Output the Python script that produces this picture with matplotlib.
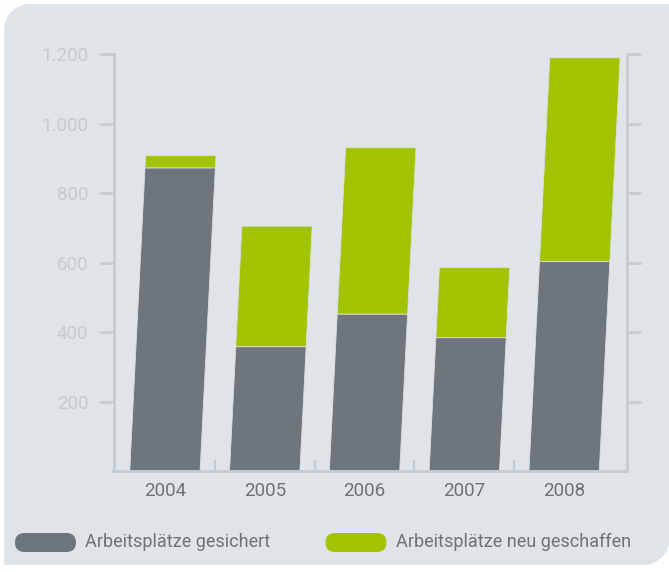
import numpy as np
import matplotlib
matplotlib.use('Agg')
import matplotlib.pyplot as plt
from matplotlib.patches import FancyBboxPatch, PathPatch
from matplotlib.path import Path
import matplotlib.transforms as mtransforms

# ---------------- data ----------------
years = ['2004', '2005', '2006', '2007', '2008']
gesichert = [873, 358, 452, 384, 603]
neu = [35, 347, 479, 202, 587]
yticks = [200, 400, 600, 800, 1000, 1200]
ytick_labels = ['200', '400', '600', '800', '1.000', '1.200']
legend_labels = ['Arbeitsplätze gesichert', 'Arbeitsplätze neu geschaffen']

# ---------------- style ----------------
W, H = 669, 572
PANEL = '#dfe4e8'
GRAY = '#6e757b'
GREEN = '#a2c300'
AXIS = '#c3ccd2'
YLAB = '#c4ccd1'
XLAB = '#6c7278'

plt.rcParams['font.family'] = ['Roboto', 'DejaVu Sans']

fig = plt.figure(figsize=(W / 100, H / 100), dpi=100, facecolor='white')
inch = fig.dpi_scale_trans


def px(x, y):
    return (x / 100.0, (H - y) / 100.0)


# background panel: rounded top-left and bottom-right corners
x0, y0, x1, y1, r = 4, 4, 669.5, 565, 26
verts = []
t = np.linspace(np.pi, 1.5 * np.pi, 20)
for a in t:  # top-left arc
    verts.append(px(x0 + r + r * np.cos(a), y0 + r + r * np.sin(a)))
verts.append(px(x1, y0))
verts.append(px(x1, y1 - r))
t = np.linspace(0, 0.5 * np.pi, 20)
for a in t:  # bottom-right arc
    verts.append(px(x1 - r + r * np.cos(a), y1 - r + r * np.sin(a)))
verts.append(px(x0, y1))
verts.append(verts[0])
codes = [Path.MOVETO] + [Path.LINETO] * (len(verts) - 2) + [Path.CLOSEPOLY]
fig.patches.append(PathPatch(Path(verts, codes), facecolor=PANEL, edgecolor='none',
                             transform=inch, zorder=-10))

# ---------------- axes ----------------
left_px, right_px, bottom_px, top_px = 113.5, 626.5, 471, 54.3
ax = fig.add_axes([left_px / W, 1 - bottom_px / H,
                   (right_px - left_px) / W, (bottom_px - top_px) / H])
ax.set_facecolor('none')
xmin, xmax = -0.515, 4.625
ax.set_xlim(xmin, xmax)
ax.set_ylim(0, 1200)

# slanted bars: horizontal shift proportional to height
shear = 0.0504
px_per_y = (bottom_px - top_px) / 1200.0
px_per_x = (right_px - left_px) / (xmax - xmin)
k = shear * px_per_y / px_per_x
skew = mtransforms.Affine2D(np.array([[1, k, 0], [0, 1, 0], [0, 0, 1]])) + ax.transData

x = np.arange(len(years))
b1 = ax.bar(x, gesichert, 0.705, color=GRAY, edgecolor='#d9dee2', linewidth=0.6)
b2 = ax.bar(x, neu, 0.705, bottom=gesichert, color=GREEN, edgecolor='#d9dee2', linewidth=0.6)
for p in list(b1) + list(b2):
    p.set_transform(skew)

for s in ['left', 'right', 'bottom']:
    ax.spines[s].set_color(AXIS)
    ax.spines[s].set_linewidth(2)
ax.spines['top'].set_visible(False)

ax.set_yticks(yticks)
ax.set_yticklabels(ytick_labels)
ax.tick_params(axis='y', direction='out', length=10, width=2, color=AXIS,
               left=True, right=True, labelleft=True, labelright=False,
               labelcolor=YLAB, labelsize=13.5, pad=8)

ax.set_xticks([0.5, 1.5, 2.5, 3.5])
ax.set_xticklabels([])
ax.tick_params(axis='x', which='major', direction='in', length=8, width=1.5, color=AXIS)
ax.set_xticks(x, minor=True)
ax.set_xticklabels(years, minor=True)
ax.tick_params(axis='x', which='minor', length=0, labelcolor=XLAB, labelsize=13.5, pad=8)

# ---------------- legend ----------------
pills = [(15, GRAY, 85), (325.5, GREEN, 396)]
for (lx, col, tx), lab in zip(pills, legend_labels):
    fig.patches.append(FancyBboxPatch(px(lx, 552), 0.61, 0.19,
                                      boxstyle='round,pad=0,rounding_size=0.095',
                                      facecolor=col, edgecolor='none', transform=inch))
    fig.text(*px(tx, 542), lab, transform=inch, ha='left', va='center',
             fontsize=13, color=XLAB)

fig.savefig('out.png', dpi=100, facecolor='white')
